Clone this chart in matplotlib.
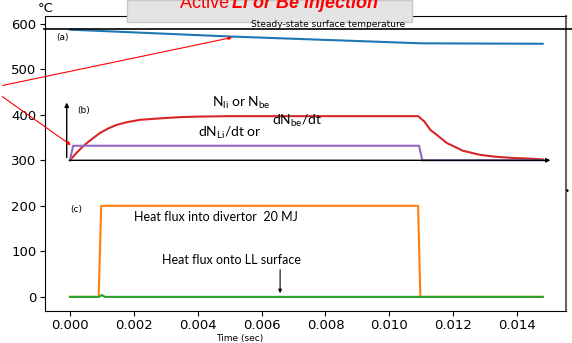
import matplotlib.pyplot as plt
from matplotlib.patches import Rectangle
from matplotlib.lines import Line2D

plt.rcParams['mathtext.fontset'] = 'custom'
plt.rcParams['mathtext.rm'] = 'Lato'

# (a) surface temperature
t_temp = [0.0, 0.005, 0.011, 0.0148]
temp = [587, 572, 557, 556]

# (b) N_li or N_be
t_n = [0.0, 0.0002, 0.0004, 0.0006, 0.00094, 0.0012, 0.00147, 0.0018, 0.0022,
       0.0026, 0.003, 0.0035, 0.004, 0.005, 0.0109, 0.0111, 0.01128, 0.0115,
       0.0118, 0.0121, 0.0123, 0.0126, 0.01284, 0.0133, 0.0139, 0.0143, 0.0148]
n_li = [300, 316, 330, 342, 360, 370, 378, 384, 389, 391, 393, 395, 396, 397,
        397, 385, 367, 355, 338, 328, 321, 316, 312, 308, 305, 304, 302]

# (b) dN/dt
t_dn = [0.0, 0.0001, 0.01093, 0.01103, 0.0148]
dn_li = [300, 332, 332, 300, 300]

# (c) heat flux into divertor
t_div = [0.0, 0.0009, 0.00098, 0.0109, 0.01097, 0.0148]
q_div = [0, 0, 200, 200, 0, 0]

# (c) heat flux onto LL surface
t_ll = [0.0, 0.0009, 0.001, 0.0011, 0.0148]
q_ll = [0, 0, 4, 0, 0]

W, H = 572, 343
fig = plt.figure(figsize=(W / 100, H / 100), dpi=100)
ax = fig.add_axes([45 / W, (H - 311) / H, (566 - 45) / W, (311 - 16) / H])

ax.plot(t_temp, temp, color='#1f77b4', lw=1.5)
ax.plot(t_n, n_li, color='#d62728', lw=1.5)
ax.plot(t_dn, dn_li, color='#9467bd', lw=1.5)
ax.plot(t_div, q_div, color='#ff7f0e', lw=1.5)
ax.plot(t_ll, q_ll, color='#2ca02c', lw=1.5)

ax.set_xlim(-0.00078, 0.01553)
ax.set_ylim(-31, 617)
ax.set_xticks([0.0, 0.002, 0.004, 0.006, 0.008, 0.010, 0.012, 0.014])
ax.set_xticklabels(['0.000', '0.002', '0.004', '0.006', '0.008', '0.010', '0.012', '0.014'])
ax.set_yticks([0, 100, 200, 300, 400, 500, 600])
ax.tick_params(labelsize=9.5, pad=2.5)
ax.spines['right'].set_color('#666666')
ax.spines['right'].set_linewidth(1.5)

# panel (b) axes arrows
ax.annotate('', xy=(-0.0001, 433), xytext=(-0.0001, 300),
            arrowprops=dict(arrowstyle='-|>', color='black', lw=1, mutation_scale=6))
ax.annotate('', xy=(0.01513, 300), xytext=(-0.0001, 300),
            arrowprops=dict(arrowstyle='-|>', color='black', lw=1, mutation_scale=6))

# labels
ax.text(-0.00044, 569, '(a)', fontsize=6.5, va='center')
ax.text(0.00022, 409, '(b)', fontsize=6.5, va='center')
ax.text(0.0, 193, '(c)', fontsize=6.5, va='center')
ax.text(0.00445, 418, r'N$_{\rm li}$ or N$_{\rm be}$', family='Lato', fontsize=10)
ax.text(0.00633, 378, r'dN$_{\rm be}$/dt', family='Lato', fontsize=10)
ax.text(0.004, 352, r'dN$_{\rm Li}$/dt or', family='Lato', fontsize=10)
ax.text(0.002, 176, 'Heat flux into divertor  20 MJ', family='Lato', fontsize=9, va='center')
ax.text(0.00288, 81, 'Heat flux onto LL surface', family='Lato', fontsize=9, va='center')
ax.annotate('', xy=(0.00658, 2), xytext=(0.00658, 66),
            arrowprops=dict(arrowstyle='-|>', color='black', lw=0.8, mutation_scale=5))

# red pointer arrows from the left edge
ax.annotate('', xy=(0.00516, 571), xytext=(0.0, (H - 86) / H),
            textcoords='figure fraction',
            arrowprops=dict(arrowstyle='-|>', color='red', lw=0.8, mutation_scale=5))
ax.annotate('', xy=(0.0001, 330), xytext=(0.0, (H - 95) / H),
            textcoords='figure fraction',
            arrowprops=dict(arrowstyle='-|>', color='red', lw=0.8, mutation_scale=5))

# steady-state line and label
fig.add_artist(Line2D([44 / W, 1.0], [(H - 29) / H, (H - 29) / H], color='black', lw=1.2))
fig.text(328 / W, (H - 27) / H, 'Steady-state surface temperature', fontsize=6.5,
         ha='center', va='baseline')

# title box
fig.add_artist(Rectangle((127 / W, (H - 22) / H), (412 - 127) / W, 22 / H,
                         transform=fig.transFigure, facecolor='#e4e4e4',
                         edgecolor='#c8c8c8', lw=1))
fig.text(180 / W, (H - 8) / H, 'Active ', color='red', fontsize=13,
         family='Liberation Sans', ha='left', va='baseline')
fig.text(232 / W, (H - 8) / H, 'Li or Be injection', color='red', fontsize=13,
         family='Liberation Sans', weight='bold', style='italic', ha='left', va='baseline')

fig.text(38 / W, (H - 9) / H, '°C', fontsize=9.5, ha='left', va='center')
fig.text(240 / W, (H - 338) / H, 'Time (sec)', fontsize=6.5, ha='center', va='center')
fig.text(567 / W, (H - 191) / H, '•', fontsize=6, ha='center', va='center')

fig.savefig('out.png', dpi=100)
